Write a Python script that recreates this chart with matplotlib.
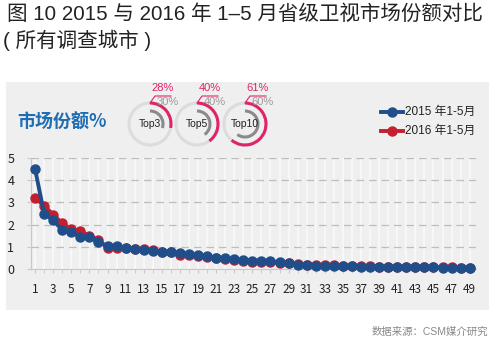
import matplotlib
matplotlib.use("Agg")
import matplotlib.pyplot as plt
from matplotlib.patches import Rectangle, Arc, Circle
import numpy as np

plt.rcParams['font.family'] = ['Noto Sans CJK SC', 'DejaVu Sans']

ranks = list(range(1, 50))
share_2015 = [4.5, 2.5, 2.2, 1.75, 1.65, 1.45, 1.45, 1.2, 1.05, 1.05,
              0.95, 0.9, 0.85, 0.82, 0.78, 0.75, 0.72, 0.68, 0.62, 0.6,
              0.5, 0.48, 0.45, 0.4, 0.38, 0.38, 0.36, 0.3, 0.25, 0.2,
              0.18, 0.15, 0.14, 0.13, 0.12, 0.12, 0.11, 0.1, 0.1, 0.09,
              0.09, 0.08, 0.08, 0.07, 0.07, 0.06, 0.06, 0.05, 0.05]
share_2016 = [3.2, 2.85, 2.45, 2.05, 1.8, 1.7, 1.5, 1.3, 0.95, 0.95,
              0.95, 0.9, 0.9, 0.85, 0.78, 0.75, 0.65, 0.62, 0.58, 0.52,
              0.48, 0.45, 0.42, 0.35, 0.33, 0.3, 0.3, 0.28, 0.25, 0.22,
              0.2, 0.18, 0.17, 0.16, 0.15, 0.14, 0.13, 0.12, 0.11, 0.1,
              0.1, 0.09, 0.09, 0.08, 0.08, 0.07, 0.07, 0.06, 0.05]
series_labels = ['2015 年1-5月', '2016 年1-5月']
ring_names = ['Top3', 'Top5', 'Top10']
ring_2016 = [28, 40, 61]
ring_2015 = [30, 40, 60]

BLUE = '#1f4e8a'
RED = '#c41f2e'
PINK = '#e0246a'
W, H = 500, 362
LAT = ['Liberation Sans', 'Noto Sans CJK SC']

fig = plt.figure(figsize=(5, 3.62), dpi=100, facecolor='white')

# background panel
fig.patches.append(Rectangle((6 / W, (H - 310) / H), 483 / W, 228 / H,
                             transform=fig.transFigure, facecolor='#efefef',
                             edgecolor='none', zorder=-5))

ax = fig.add_axes([31 / W, (H - 269) / H, 445 / W, 111 / H])
ax.set_facecolor('none')
ax.set_xlim(0.55, 49.7)
ax.set_ylim(0, 5)
for x in ranks:
    ax.axvline(x, color='#f7f7f7', lw=1.5, zorder=0)
for y in [1, 2, 3, 4, 5]:
    ax.axhline(y, color='#bdbdbd', lw=0.9, ls=(0, (6, 4)), zorder=1)

ax.plot(ranks, share_2016, color=RED, lw=2.8, marker='o', ms=6.5,
        zorder=3, clip_on=False)
ax.plot(ranks, share_2015, color=BLUE, lw=2.8, marker='o', ms=6.5,
        zorder=4, clip_on=False)

for s in ['top', 'right']:
    ax.spines[s].set_visible(False)
ax.spines['left'].set_color('#c8c8c8')
ax.spines['bottom'].set_color('#c8c8c8')
ax.set_xticks(ranks[::2])
ax.set_xticks(ranks, minor=True)
ax.set_yticks([0, 1, 2, 3, 4, 5])
ax.tick_params(axis='x', which='both', length=3, color='#c8c8c8',
               labelsize=8.5, pad=7, labelcolor='#222222')
ax.tick_params(axis='y', length=3, color='#c8c8c8', labelsize=9,
               pad=9, labelcolor='#222222')

# overlay axes in pixel coords
ov = fig.add_axes([0, 0, 1, 1])
ov.set_xlim(0, W)
ov.set_ylim(0, H)
ov.axis('off')
ov.patch.set_alpha(0)

fig.text(7 / W, 1 - 14 / H, '图 10 2015 与 2016 年 1–5 月省级卫视市场份额对比',
         fontsize=14.8, va='center', ha='left', color='#222222', family=LAT)
fig.text(3 / W, 1 - 40 / H, '( 所有调查城市 )', fontsize=14.8, va='center',
         ha='left', color='#222222', family=LAT)
fig.text(17 / W, 1 - 122 / H, '市场份额%', fontsize=13, fontweight='bold',
         color='#1f6db3', va='center', ha='left')
fig.text(488 / W, 1 - 332 / H, '数据来源：CSM媒介研究', fontsize=7.5,
         color='#888888', va='center', ha='right', family=LAT)

# rings
centers = [150, 197, 245]
cy = H - 124
for cx, name, p16, p15 in zip(centers, ring_names, ring_2016, ring_2015):
    ov.add_patch(Circle((cx, cy), 21, fill=False, ec='#dcdcdc', lw=2.2))
    ov.add_patch(Arc((cx, cy), 42, 42, theta1=90 - 3.6 * p16, theta2=90,
                     color=PINK, lw=2.2))
    ov.add_patch(Arc((cx, cy), 26, 26, theta1=90 - 3.6 * p15, theta2=90,
                     color='#8a8a8a', lw=2.2))
    ov.text(cx, cy, name, fontsize=7.5, ha='center', va='center',
            color='#222222', family=LAT)
    ov.plot([cx, cx + 5, cx + 21], [cy + 21, H - 96, H - 96], color=PINK,
            lw=0.8)
    ov.text(cx + 13, H - 88, f'{p16}%', fontsize=8, color=PINK,
            ha='center', va='center', family=LAT)
    ov.text(cx + 18, H - 102, f'{p15}%', fontsize=8, color='#999999',
            ha='center', va='center', family=LAT)

# legend
for yl, col, lab in [(112, BLUE, series_labels[0]), (131, RED, series_labels[1])]:
    ov.plot([381, 403], [H - yl, H - yl], color=col, lw=2.8)
    ov.plot([392], [H - yl], marker='o', ms=6.5, color=col)
    ov.text(405, H - yl, lab, fontsize=8.5, va='center', ha='left',
            color='#222222', family=LAT)

fig.savefig('out.png', dpi=100, facecolor='white')
